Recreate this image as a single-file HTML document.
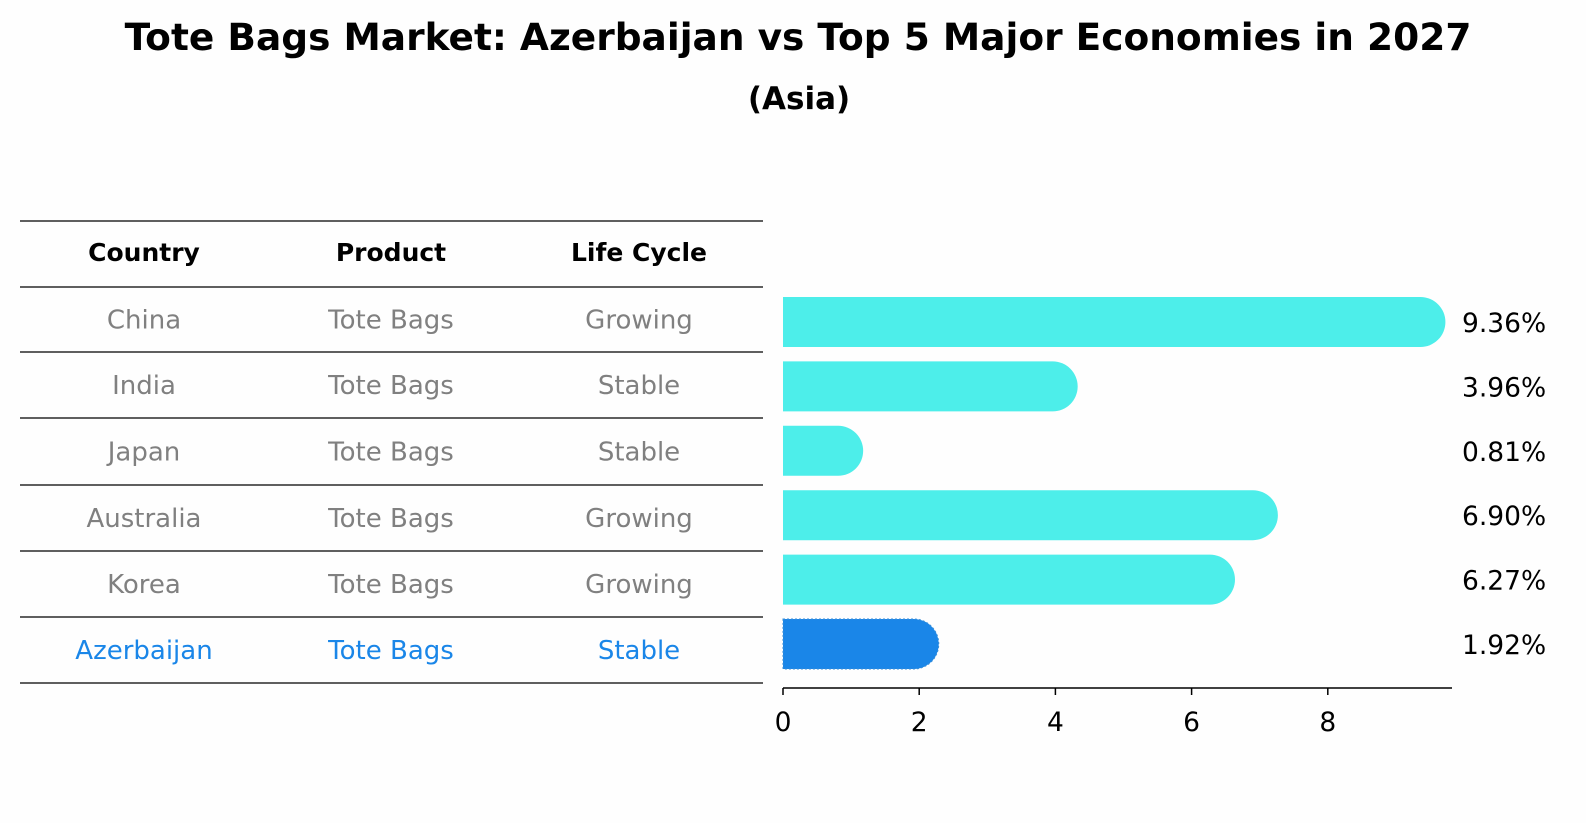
<!DOCTYPE html>
<html style="margin:0;overflow:hidden"><head><meta charset="utf-8"><style>
html,body{margin:0;padding:0;overflow:hidden}
body{background:#fefefe;width:1586px;height:823px;font-family:"DejaVu Sans","Liberation Sans",sans-serif}
svg{display:block}
svg text{font-family:"DejaVu Sans","Liberation Sans",sans-serif}
</style></head><body>
<svg width="1586" height="823" xmlns="http://www.w3.org/2000/svg">
<text x="798" y="50" text-anchor="middle" font-size="37.5" font-weight="bold">Tote Bags Market: Azerbaijan vs Top 5 Major Economies in 2027</text>
<text x="799" y="109" text-anchor="middle" font-size="31" font-weight="bold">(Asia)</text>
<g id="table"></g>
<g id="bars"></g>
</svg>
<script>
const countries=["China","India","Japan","Australia","Korea","Azerbaijan"];
const products=["Tote Bags","Tote Bags","Tote Bags","Tote Bags","Tote Bags","Tote Bags"];
const lifecycle=["Growing","Stable","Stable","Growing","Growing","Stable"];
const values=[9.36,3.96,0.81,6.90,6.27,1.92];
const xTicks=[0,2,4,6,8];
const NS="http://www.w3.org/2000/svg";
function mk(tag,attrs,parent){const e=document.createElementNS(NS,tag);for(const k in attrs)e.setAttribute(k,attrs[k]);parent.appendChild(e);return e;}
const tbl=document.getElementById('table');
const lineYs=[221,287,352,418,485,551,617,683];
lineYs.forEach((y,i)=>{const l=mk('line',{x1:20,x2:763,y1:y,y2:y,stroke:'#000','stroke-width':1.2},tbl);

});
const colX=[144,391,639];
["Country","Product","Life Cycle"].forEach((h,i)=>{const t=mk('text',{x:colX[i],y:261,'text-anchor':'middle','font-size':25,'font-weight':'bold'},tbl);t.textContent=h;

});
countries.forEach((c,r)=>{const y=(lineYs[r+1]+lineYs[r+2])/2+9;const col=c==="Azerbaijan"?'#1a86e8':'#808080';
[c,products[r],lifecycle[r]].forEach((v,i)=>{const t=mk('text',{x:colX[i],y:y,'text-anchor':'middle','font-size':26,fill:col},tbl);t.textContent=v;

});});
const g=document.getElementById('bars');
const x0=783,sc=68.1;const xs=v=>x0+v*sc;
const yc=i=>322+i*64.4;const h=50,r=25;
values.forEach((v,i)=>{const xe=xs(v),yt=yc(i)-h/2;const hl=countries[i]==="Azerbaijan";
const p=mk('path',{d:`M${x0},${yt}H${xe}A${r},${r} 0 0 1 ${xe},${yt+h}H${x0}Z`,fill:hl?'#1a86e8':'#4deeea'},g);
if(hl){p.setAttribute('stroke','#3a8fd8');p.setAttribute('stroke-dasharray','2,2');}


const t=mk('text',{x:1462,y:yc(i)+10,'font-size':26.5},g);t.textContent=v.toFixed(2)+'%';

});
const ax=mk('line',{x1:x0,x2:1452,y1:688,y2:688,stroke:'#000','stroke-width':1.5},g);


xTicks.forEach(v=>{const tk=mk('line',{x1:xs(v),x2:xs(v),y1:688,y2:695,stroke:'#000','stroke-width':1.5},g);


const t=mk('text',{x:xs(v),y:731,'text-anchor':'middle','font-size':26.5},g);t.textContent=v;

});
</script>
</body></html>
